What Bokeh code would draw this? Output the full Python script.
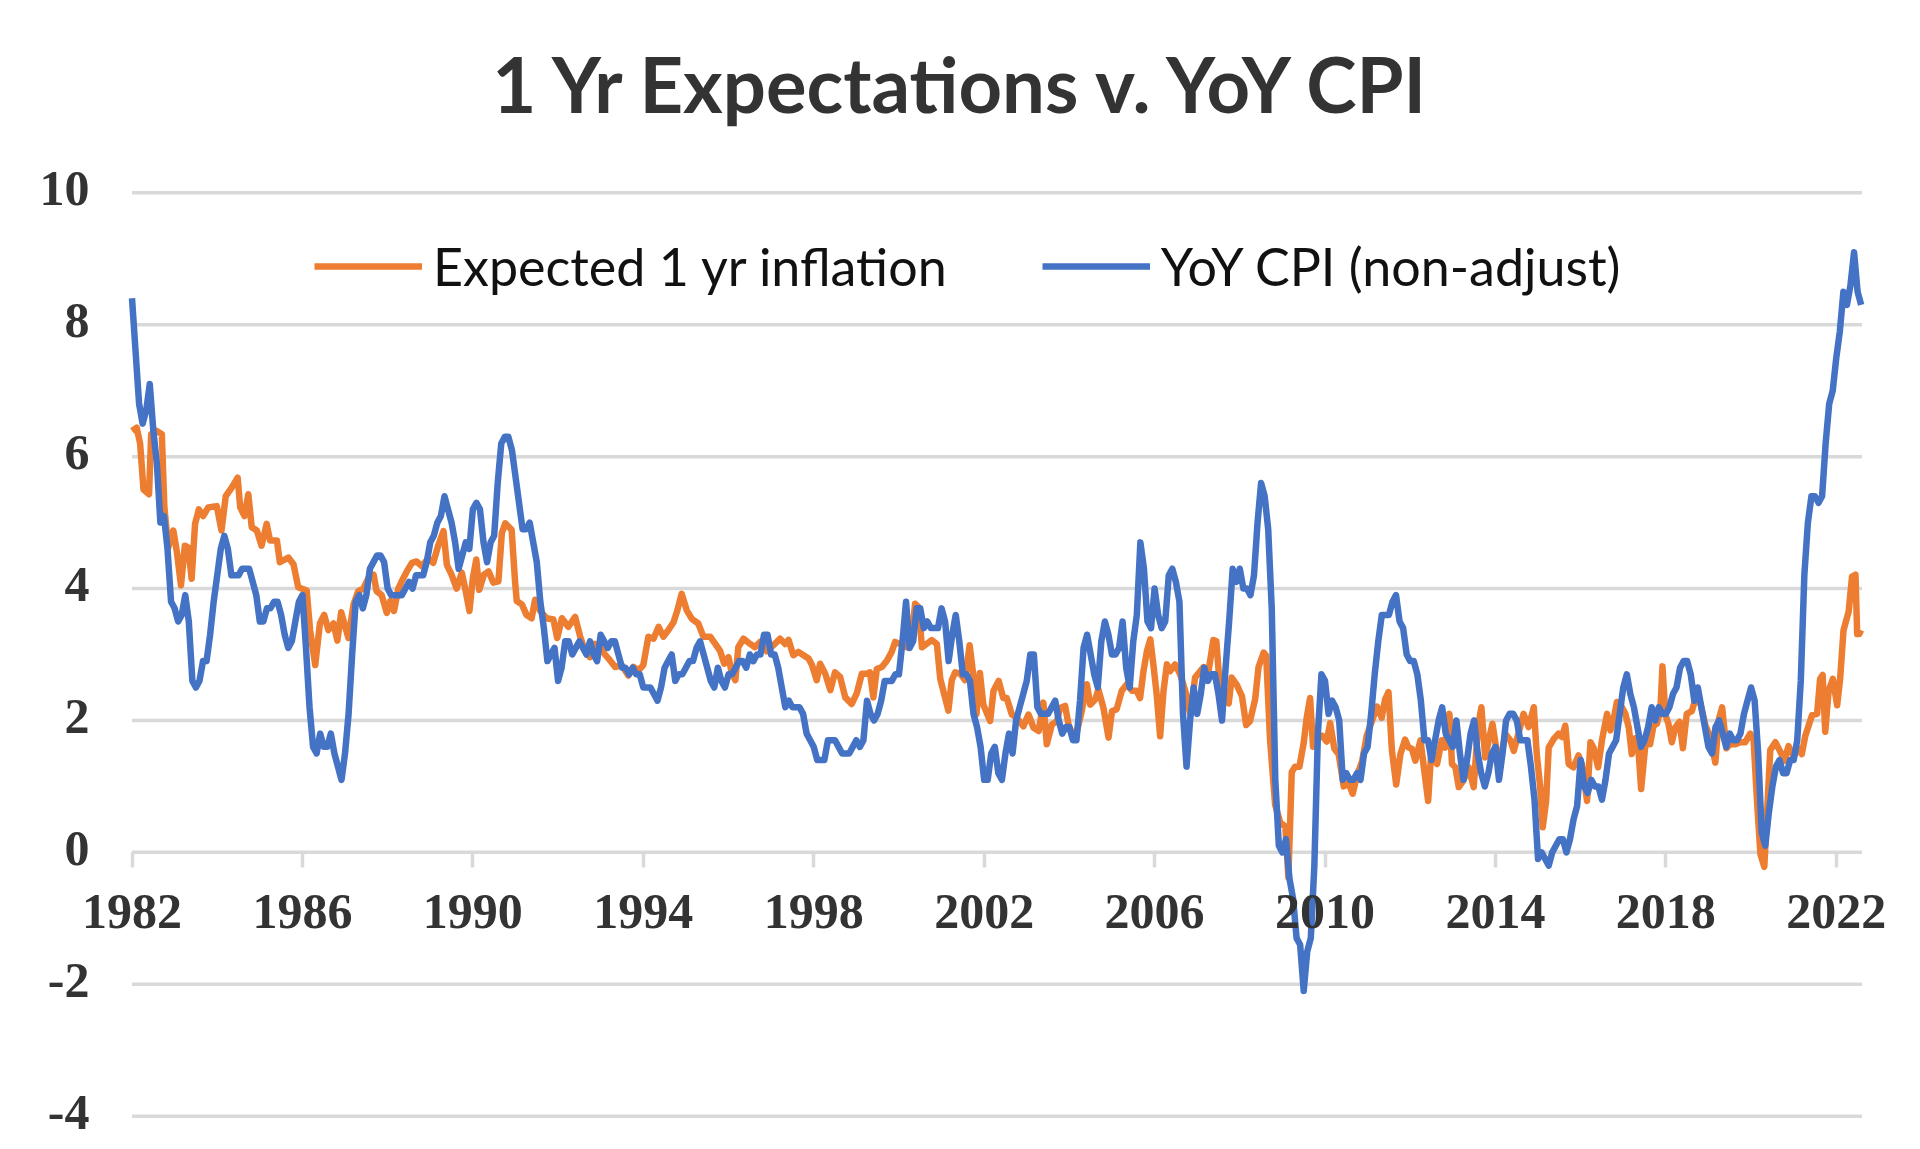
from bokeh.plotting import figure
from bokeh.models import FixedTicker, Legend, LegendItem, ColumnDataSource, LabelSet, Label
from bokeh.embed import file_html
from bokeh.resources import INLINE

# ---------------- data ----------------
title_text = "1 Yr Expectations v. YoY CPI"
series_names = ["Expected 1 yr inflation", "YoY CPI (non-adjust)"]

# YoY CPI (not seasonally adjusted), monthly, Jan 1982 .. Aug 2022
cpi_start_year = 1982
cpi_yoy = [
    8.4, 7.6, 6.8, 6.5, 6.7, 7.1, 6.4, 5.9, 5.0, 5.1, 4.6, 3.8,   # 1982
    3.7, 3.5, 3.6, 3.9, 3.5, 2.6, 2.5, 2.6, 2.9, 2.9, 3.3, 3.8,   # 1983
    4.2, 4.6, 4.8, 4.6, 4.2, 4.2, 4.2, 4.3, 4.3, 4.3, 4.1, 3.9,   # 1984
    3.5, 3.5, 3.7, 3.7, 3.8, 3.8, 3.6, 3.3, 3.1, 3.2, 3.5, 3.8,   # 1985
    3.9, 3.1, 2.2, 1.6, 1.5, 1.8, 1.6, 1.6, 1.8, 1.5, 1.3, 1.1,   # 1986
    1.5, 2.1, 3.0, 3.8, 3.9, 3.7, 3.9, 4.3, 4.4, 4.5, 4.5, 4.4,   # 1987
    4.0, 3.9, 3.9, 3.9, 3.9, 4.0, 4.1, 4.0, 4.2, 4.2, 4.2, 4.4,   # 1988
    4.7, 4.8, 5.0, 5.1, 5.4, 5.2, 5.0, 4.7, 4.3, 4.5, 4.7, 4.6,   # 1989
    5.2, 5.3, 5.2, 4.7, 4.4, 4.7, 4.8, 5.6, 6.2, 6.3, 6.3, 6.1,   # 1990
    5.7, 5.3, 4.9, 4.9, 5.0, 4.7, 4.4, 3.8, 3.4, 2.9, 3.0, 3.1,   # 1991
    2.6, 2.8, 3.2, 3.2, 3.0, 3.1, 3.2, 3.1, 3.0, 3.2, 3.0, 2.9,   # 1992
    3.3, 3.2, 3.1, 3.2, 3.2, 3.0, 2.8, 2.8, 2.7, 2.8, 2.7, 2.7,   # 1993
    2.5, 2.5, 2.5, 2.4, 2.3, 2.5, 2.8, 2.9, 3.0, 2.6, 2.7, 2.7,   # 1994
    2.8, 2.9, 2.9, 3.1, 3.2, 3.0, 2.8, 2.6, 2.5, 2.8, 2.6, 2.5,   # 1995
    2.7, 2.7, 2.8, 2.9, 2.9, 2.8, 3.0, 2.9, 3.0, 3.0, 3.3, 3.3,   # 1996
    3.0, 3.0, 2.8, 2.5, 2.2, 2.3, 2.2, 2.2, 2.2, 2.1, 1.8, 1.7,   # 1997
    1.6, 1.4, 1.4, 1.4, 1.7, 1.7, 1.7, 1.6, 1.5, 1.5, 1.5, 1.6,   # 1998
    1.7, 1.6, 1.7, 2.3, 2.1, 2.0, 2.1, 2.3, 2.6, 2.6, 2.6, 2.7,   # 1999
    2.7, 3.2, 3.8, 3.1, 3.2, 3.7, 3.7, 3.4, 3.5, 3.4, 3.4, 3.4,   # 2000
    3.7, 3.5, 2.9, 3.3, 3.6, 3.2, 2.7, 2.7, 2.6, 2.1, 1.9, 1.6,   # 2001
    1.1, 1.1, 1.5, 1.6, 1.2, 1.1, 1.5, 1.8, 1.5, 2.0, 2.2, 2.4,   # 2002
    2.6, 3.0, 3.0, 2.2, 2.1, 2.1, 2.1, 2.2, 2.3, 2.0, 1.8, 1.9,   # 2003
    1.9, 1.7, 1.7, 2.3, 3.1, 3.3, 3.0, 2.7, 2.5, 3.2, 3.5, 3.3,   # 2004
    3.0, 3.0, 3.1, 3.5, 2.8, 2.5, 3.2, 3.6, 4.7, 4.3, 3.5, 3.4,   # 2005
    4.0, 3.6, 3.4, 3.5, 4.2, 4.3, 4.1, 3.8, 2.1, 1.3, 2.0, 2.5,   # 2006
    2.1, 2.4, 2.8, 2.6, 2.7, 2.7, 2.4, 2.0, 2.8, 3.5, 4.3, 4.1,   # 2007
    4.3, 4.0, 4.0, 3.9, 4.2, 5.0, 5.6, 5.4, 4.9, 3.7, 1.1, 0.1,   # 2008
    0.0, 0.2, -0.4, -0.7, -1.3, -1.4, -2.1, -1.5, -1.3, -0.2, 1.8, 2.7,  # 2009
    2.6, 2.1, 2.3, 2.2, 2.0, 1.1, 1.2, 1.1, 1.1, 1.2, 1.1, 1.5,   # 2010
    1.6, 2.1, 2.7, 3.2, 3.6, 3.6, 3.6, 3.8, 3.9, 3.5, 3.4, 3.0,   # 2011
    2.9, 2.9, 2.7, 2.3, 1.7, 1.7, 1.4, 1.7, 2.0, 2.2, 1.8, 1.7,   # 2012
    1.6, 2.0, 1.5, 1.1, 1.4, 1.8, 2.0, 1.5, 1.2, 1.0, 1.2, 1.5,   # 2013
    1.6, 1.1, 1.5, 2.0, 2.1, 2.1, 2.0, 1.7, 1.7, 1.7, 1.3, 0.8,   # 2014
    -0.1, 0.0, -0.1, -0.2, 0.0, 0.1, 0.2, 0.2, 0.0, 0.2, 0.5, 0.7,  # 2015
    1.4, 1.0, 0.9, 1.1, 1.0, 1.0, 0.8, 1.1, 1.5, 1.6, 1.7, 2.1,   # 2016
    2.5, 2.7, 2.4, 2.2, 1.9, 1.6, 1.7, 1.9, 2.2, 2.0, 2.2, 2.1,   # 2017
    2.1, 2.2, 2.4, 2.5, 2.8, 2.9, 2.9, 2.7, 2.3, 2.5, 2.2, 1.9,   # 2018
    1.6, 1.5, 1.9, 2.0, 1.8, 1.6, 1.8, 1.7, 1.7, 1.8, 2.1, 2.3,   # 2019
    2.5, 2.3, 1.5, 0.3, 0.1, 0.6, 1.0, 1.3, 1.4, 1.2, 1.2, 1.4,   # 2020
    1.4, 1.7, 2.6, 4.2, 5.0, 5.4, 5.4, 5.3, 5.4, 6.2, 6.8, 7.0,   # 2021
    7.5, 7.9, 8.5, 8.3, 8.6, 9.1, 8.5, 8.3,                       # 2022
]

# Expected 1 yr inflation (decimal year, percent)
exp_dates = [
    1982.00, 1982.11, 1982.19, 1982.27, 1982.40, 1982.45, 1982.58, 1982.70, 1982.76, 1982.85,
    1982.97, 1983.05, 1983.15, 1983.24, 1983.32, 1983.40, 1983.48, 1983.57, 1983.67, 1983.79,
    1983.99, 1984.10, 1984.20, 1984.34, 1984.48, 1984.54, 1984.64, 1984.73, 1984.81, 1984.93,
    1985.04, 1985.16, 1985.24, 1985.40, 1985.47, 1985.67, 1985.79, 1985.90, 1986.10, 1986.18,
    1986.30, 1986.41, 1986.51, 1986.61, 1986.73, 1986.82, 1986.91, 1987.08, 1987.20, 1987.31,
    1987.43, 1987.55, 1987.67, 1987.74, 1987.86, 1987.98, 1988.06, 1988.15, 1988.25, 1988.33,
    1988.45, 1988.57, 1988.68, 1988.80, 1988.96, 1989.07, 1989.19, 1989.31, 1989.39, 1989.50,
    1989.62, 1989.74, 1989.82, 1989.92, 1990.00, 1990.08, 1990.15, 1990.26, 1990.37, 1990.48,
    1990.60, 1990.68, 1990.76, 1990.91, 1990.99, 1991.03, 1991.15, 1991.26, 1991.38, 1991.46,
    1991.58, 1991.73, 1991.89, 1991.98, 1992.09, 1992.24, 1992.40, 1992.52, 1992.63, 1992.75,
    1992.87, 1992.99, 1993.10, 1993.22, 1993.34, 1993.49, 1993.65, 1993.77, 1993.89, 1994.00,
    1994.12, 1994.24, 1994.36, 1994.47, 1994.59, 1994.71, 1994.80, 1994.90, 1995.02, 1995.14,
    1995.29, 1995.41, 1995.57, 1995.69, 1995.80, 1995.90, 1996.00, 1996.08, 1996.16, 1996.23,
    1996.35, 1996.51, 1996.62, 1996.74, 1996.90, 1997.05, 1997.21, 1997.33, 1997.41, 1997.52,
    1997.64, 1997.76, 1997.88, 1997.96, 1998.07, 1998.15, 1998.27, 1998.39, 1998.50, 1998.62,
    1998.74, 1998.89, 1999.01, 1999.13, 1999.25, 1999.32, 1999.40, 1999.48, 1999.60, 1999.72,
    1999.83, 1999.91, 2000.03, 2000.19, 2000.30, 2000.38, 2000.46, 2000.54, 2000.65, 2000.77,
    2000.89, 2000.97, 2001.16, 2001.24, 2001.32, 2001.44, 2001.55, 2001.66, 2001.75, 2001.82,
    2001.90, 2001.98, 2002.14, 2002.22, 2002.34, 2002.45, 2002.53, 2002.65, 2002.77, 2002.92,
    2003.04, 2003.16, 2003.28, 2003.39, 2003.47, 2003.59, 2003.71, 2003.78, 2003.90, 2003.98,
    2004.10, 2004.18, 2004.29, 2004.41, 2004.49, 2004.61, 2004.68, 2004.80, 2004.92, 2005.00,
    2005.11, 2005.23, 2005.35, 2005.47, 2005.58, 2005.66, 2005.74, 2005.82, 2005.90, 2005.98,
    2006.05, 2006.13, 2006.21, 2006.29, 2006.37, 2006.48, 2006.60, 2006.72, 2006.84, 2006.95,
    2007.15, 2007.27, 2007.38, 2007.45, 2007.54, 2007.74, 2007.81, 2007.93, 2008.05, 2008.15,
    2008.24, 2008.36, 2008.44, 2008.56, 2008.62, 2008.71, 2008.83, 2008.95, 2009.07, 2009.14,
    2009.22, 2009.30, 2009.40, 2009.50, 2009.57, 2009.65, 2009.72, 2009.81, 2009.93, 2010.04,
    2010.12, 2010.22, 2010.32, 2010.44, 2010.55, 2010.65, 2010.75, 2010.87, 2010.98, 2011.10,
    2011.22, 2011.33, 2011.41, 2011.49, 2011.57, 2011.67, 2011.77, 2011.88, 2011.96, 2012.04,
    2012.12, 2012.24, 2012.31, 2012.42, 2012.49, 2012.63, 2012.74, 2012.82, 2012.92, 2012.98,
    2013.06, 2013.14, 2013.25, 2013.37, 2013.49, 2013.59, 2013.67, 2013.76, 2013.86, 2013.93,
    2014.04, 2014.15, 2014.23, 2014.35, 2014.43, 2014.54, 2014.66, 2014.78, 2014.90, 2014.97,
    2015.05, 2015.11, 2015.19, 2015.25, 2015.37, 2015.48, 2015.56, 2015.64, 2015.72, 2015.83,
    2015.95, 2016.03, 2016.15, 2016.23, 2016.30, 2016.41, 2016.50, 2016.62, 2016.70, 2016.77,
    2016.85, 2016.97, 2017.05, 2017.13, 2017.20, 2017.28, 2017.36, 2017.42, 2017.52, 2017.63,
    2017.71, 2017.79, 2017.87, 2017.92, 2017.99, 2018.06, 2018.14, 2018.22, 2018.32, 2018.40,
    2018.49, 2018.61, 2018.69, 2018.81, 2018.93, 2019.04, 2019.16, 2019.24, 2019.32, 2019.42,
    2019.51, 2019.63, 2019.75, 2019.86, 2019.98, 2020.06, 2020.14, 2020.22, 2020.31, 2020.37,
    2020.45, 2020.57, 2020.69, 2020.78, 2020.88, 2021.00, 2021.09, 2021.19, 2021.27, 2021.35,
    2021.43, 2021.55, 2021.62, 2021.68, 2021.74, 2021.82, 2021.92, 2022.02, 2022.09, 2022.17,
    2022.29, 2022.37, 2022.45, 2022.49, 2022.54, 2022.58,
]
exp_values = [
    6.39, 6.44, 6.20, 5.50, 5.43, 6.34, 6.39, 6.34, 5.23, 4.62,
    4.88, 4.57, 4.05, 4.65, 4.62, 4.15, 4.98, 5.20, 5.10, 5.23,
    5.25, 4.88, 5.40, 5.53, 5.68, 5.23, 5.10, 5.43, 4.93, 4.88,
    4.65, 4.98, 4.73, 4.73, 4.40, 4.47, 4.37, 4.02, 3.97, 3.37,
    2.84, 3.47, 3.60, 3.37, 3.47, 3.21, 3.64, 3.25, 3.76, 3.96,
    4.00, 4.16, 4.21, 3.96, 3.90, 3.63, 3.81, 3.66, 4.00, 4.11,
    4.26, 4.39, 4.41, 4.34, 4.46, 4.39, 4.66, 4.87, 4.36, 4.21,
    4.00, 4.24, 4.00, 3.66, 4.16, 4.44, 3.98, 4.21, 4.26, 4.09,
    4.11, 4.84, 4.99, 4.89, 4.11, 3.81, 3.76, 3.60, 3.55, 3.83,
    3.66, 3.55, 3.53, 3.25, 3.55, 3.42, 3.57, 3.27, 3.06, 2.96,
    3.16, 3.11, 3.00, 2.91, 2.81, 2.84, 2.68, 2.81, 2.76, 2.84,
    3.27, 3.24, 3.42, 3.27, 3.37, 3.49, 3.67, 3.92, 3.67, 3.54,
    3.47, 3.27, 3.27, 3.16, 3.06, 2.86, 2.96, 2.71, 2.61, 3.11,
    3.24, 3.16, 3.11, 3.19, 3.05, 3.14, 3.24, 3.16, 3.22, 2.99,
    3.04, 2.99, 2.94, 2.84, 2.61, 2.86, 2.71, 2.46, 2.73, 2.66,
    2.35, 2.25, 2.41, 2.71, 2.71, 2.73, 2.35, 2.78, 2.81, 2.91,
    3.04, 3.19, 3.16, 3.11, 3.27, 3.77, 3.72, 3.11, 3.16, 3.22,
    3.16, 2.63, 2.15, 2.61, 2.73, 2.71, 2.61, 3.14, 2.66, 2.10,
    2.72, 2.24, 1.99, 2.45, 2.60, 2.34, 2.34, 2.09, 2.04, 1.91,
    2.09, 1.89, 1.84, 2.27, 1.64, 1.94, 1.99, 2.19, 2.22, 1.94,
    1.74, 1.84, 2.14, 2.55, 2.24, 2.32, 2.47, 2.19, 1.74, 2.14,
    2.17, 2.45, 2.55, 2.45, 2.45, 2.34, 2.75, 3.05, 3.23, 2.80,
    2.39, 1.76, 2.45, 2.85, 2.75, 2.85, 2.70, 2.45, 2.09, 2.65,
    2.81, 2.76, 3.22, 3.20, 2.43, 2.26, 2.65, 2.54, 2.37, 1.93,
    1.99, 2.32, 2.81, 3.03, 2.98, 1.71, 0.72, 0.45, 0.39, -0.38,
    1.22, 1.30, 1.30, 1.66, 2.04, 2.34, 1.60, 1.77, 1.77, 1.68,
    1.96, 1.57, 1.49, 1.00, 1.05, 0.89, 1.16, 1.38, 1.77, 1.99,
    2.21, 2.04, 2.32, 2.43, 1.55, 1.03, 1.49, 1.71, 1.59, 1.57,
    1.39, 1.70, 1.34, 0.78, 1.49, 1.34, 1.70, 1.59, 2.10, 1.34,
    1.29, 0.99, 1.09, 1.29, 0.99, 1.90, 2.20, 1.44, 1.75, 1.95,
    1.49, 1.49, 1.80, 1.70, 1.54, 1.80, 2.10, 1.90, 2.20, 1.49,
    0.99, 0.38, 0.78, 1.59, 1.72, 1.80, 1.75, 1.92, 1.34, 1.29,
    1.47, 1.34, 0.78, 1.67, 1.59, 1.29, 1.70, 2.10, 1.85, 2.00,
    2.28, 2.20, 2.10, 1.89, 1.49, 1.73, 1.52, 0.96, 1.64, 1.64,
    1.92, 1.95, 2.14, 2.82, 2.08, 1.95, 1.67, 1.89, 1.98, 1.58,
    2.10, 2.14, 2.32, 2.26, 1.92, 1.76, 1.36, 2.01, 2.20, 1.58,
    1.64, 1.64, 1.67, 1.67, 1.80, 1.70, 0.77, -0.03, -0.22, 0.53,
    1.55, 1.67, 1.52, 1.39, 1.61, 1.45, 1.58, 1.49, 1.76, 1.92,
    2.08, 2.10, 2.63, 2.69, 1.83, 2.45, 2.63, 2.23, 2.63, 3.37,
    3.65, 4.18, 4.21, 3.31, 3.31, 3.37,
]

y_ticks = [-4, -2, 0, 2, 4, 6, 8, 10]
y_tick_labels = ["-4", "-2", "0", "2", "4", "6", "8", "10"]
x_ticks = [1982, 1986, 1990, 1994, 1998, 2002, 2006, 2010, 2014, 2018, 2022]
x_tick_labels = [str(t) for t in x_ticks]

# ---------------- build ----------------
cpi_dates = [cpi_start_year + i / 12.0 for i in range(len(cpi_yoy))]
x_axis_start = x_ticks[0]
x_axis_end = cpi_dates[-1] + 0.02

src_cpi = ColumnDataSource(dict(x=cpi_dates, y=cpi_yoy))
src_exp = ColumnDataSource(dict(x=exp_dates, y=exp_values))
src_grid = ColumnDataSource(dict(x0=[x_axis_start] * len(y_ticks),
                                 x1=[x_axis_end] * len(y_ticks), y=y_ticks))
src_xlab = ColumnDataSource(dict(x=x_ticks, y=[0] * len(x_ticks), text=x_tick_labels))
src_ylab = ColumnDataSource(dict(x=[x_axis_start] * len(y_ticks), y=y_ticks, text=y_tick_labels))

ORANGE = "#ED7D31"
BLUE = "#4472C4"
GRID = "#d9d9d9"
TXT = "#333333"

# layout (pixels inside the 1904 x 1141 canvas)
W, H = 1904, 1141
px_left, px_right = 131.5, 1861.5      # where x_axis_start / x_axis_end sit
px_top10, px_bot4 = 192.3, 1115.7      # where y = 10 / y = -4 sit
ppx = (px_right - px_left) / (x_axis_end - x_axis_start)
ppy = (px_bot4 - px_top10) / 14.0
x_range = (x_axis_start - px_left / ppx, x_axis_end + (W - px_right) / ppx)
y_range = (-4 - (H - px_bot4) / ppy, 10 + px_top10 / ppy)

p = figure(width=W, height=H, output_backend="svg", toolbar_location=None,
           x_range=x_range, y_range=y_range,
           min_border_left=0, min_border_right=0, min_border_top=0,
           min_border_bottom=0)

p.outline_line_color = None
p.background_fill_color = "white"
p.border_fill_color = "white"
p.xgrid.visible = False
p.ygrid.visible = False
p.yaxis.visible = False

# horizontal gridlines, from the first to the last category
p.segment(x0="x0", x1="x1", y0="y", y1="y", source=src_grid,
          line_color=GRID, line_width=3.5)

r_exp = p.line("x", "y", source=src_exp, line_color=ORANGE, line_width=6.5, line_join="round")
r_cpi = p.line("x", "y", source=src_cpi, line_color=BLUE, line_width=6.5, line_join="round")

# category axis crossing at 0: tick marks only (line = the 0 gridline)
xa = p.xaxis[0]
xa.ticker = FixedTicker(ticks=x_ticks)
xa.major_label_overrides = {t: "" for t in x_ticks}
xa.fixed_location = 0
xa.axis_line_color = None
xa.major_tick_line_color = GRID
xa.major_tick_line_width = 3.5
xa.major_tick_out = 15
xa.major_tick_in = 0
xa.minor_tick_line_color = None

p.add_layout(LabelSet(x="x", y="y", text="text", source=src_xlab,
                      y_offset=-59, text_align="center", text_baseline="middle",
                      text_font="Liberation Serif", text_font_style="bold",
                      text_font_size="50px", text_color=TXT))
p.add_layout(LabelSet(x="x", y="y", text="text", source=src_ylab,
                      x_offset=-42.5, y_offset=4, text_align="right", text_baseline="middle",
                      text_font="Liberation Serif", text_font_style="bold",
                      text_font_size="50px", text_color=TXT))

p.add_layout(Label(x=W / 2 + 13, y=H - 83, x_units="screen", y_units="screen",
                   text=title_text, text_align="center", text_baseline="alphabetic",
                   text_font="Lato", text_font_style="bold", text_font_size="76px",
                   text_color=TXT))

legend = Legend(items=[LegendItem(label=series_names[0], renderers=[r_exp]),
                       LegendItem(label=series_names[1], renderers=[r_cpi])],
                orientation="horizontal", location=(314, 844))
legend.glyph_width = 108
legend.glyph_height = 60
legend.label_height = 60
legend.label_standoff = 11
legend.spacing = 95
legend.padding = 0
legend.margin = 0
legend.border_line_color = None
legend.background_fill_alpha = 0
legend.label_text_font = "Lato"
legend.label_text_font_size = "52px"
legend.label_text_color = "#111111"
p.add_layout(legend)

open("out.html", "w").write(file_html(p, INLINE))
